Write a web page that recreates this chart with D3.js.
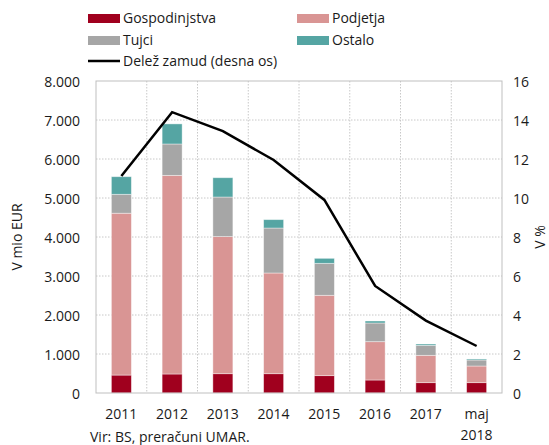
<!DOCTYPE html>
<html>
<head>
<meta charset="utf-8">
<script src="https://cdn.jsdelivr.net/npm/d3@7"></script>
<style>
    html, body { margin: 0; padding: 0; background: #ffffff; overflow: hidden; }
    svg { display: block; }
    svg text { font-family: "Open Sans", "Noto Sans", sans-serif; fill: #1a1a1a; }
</style>
</head>
<body>
<div id="chart"></div>
<script>
// Data (mio EUR, share in %)
const years = ["2011", "2012", "2013", "2014", "2015", "2016", "2017", "maj 2018"];
const gospodinjstva = [460, 487, 495, 495, 445, 333, 265, 265];
const podjetja = [4150, 5093, 3515, 2582, 2060, 983, 701, 427];
const tujci = [485, 805, 1015, 1153, 820, 479, 256, 154];
const ostalo = [451, 515, 495, 215, 128, 51, 34, 26];
const delez = [11.13, 14.4, 13.43, 11.95, 9.9, 5.49, 3.71, 2.41];

const seriesNames = ["Gospodinjstva", "Podjetja", "Tujci", "Ostalo"];
const seriesColors = ["#a0001e", "#d99594", "#a6a6a6", "#55a5a3"];

const leftTicks = [0, 1000, 2000, 3000, 4000, 5000, 6000, 7000, 8000];
const rightTicks = [0, 2, 4, 6, 8, 10, 12, 14, 16];

const width = 549;
const height = 445;
const margin = { top: 81, right: 47, bottom: 52, left: 96 };
const innerWidth = width - margin.left - margin.right;
const innerHeight = height - margin.top - margin.bottom;

const svg = d3.select("#chart")
    .append("svg")
    .attr("width", width)
    .attr("height", height);

const g = svg.append("g")
    .attr("transform", `translate(${margin.left}, ${margin.top})`);

// build rows for the stack
const rows = years.map((y, i) => ({
    year: y,
    Gospodinjstva: gospodinjstva[i],
    Podjetja: podjetja[i],
    Tujci: tujci[i],
    Ostalo: ostalo[i]
}));

const x = d3.scaleBand()
    .domain(years)
    .range([0, innerWidth]);

const y = d3.scaleLinear()
    .domain([0, 8000])
    .range([innerHeight, 0]);

const yRight = d3.scaleLinear()
    .domain([0, 16])
    .range([innerHeight, 0]);

const color = d3.scaleOrdinal()
    .domain(seriesNames)
    .range(seriesColors);

// dotted grid lines
g.append("g")
    .selectAll("line")
    .data(leftTicks.slice(1, -1))
    .join("line")
    .attr("x1", 0)
    .attr("x2", innerWidth)
    .attr("y1", d => y(d))
    .attr("y2", d => y(d))
    .attr("stroke", "#c8c8c8")
    .attr("stroke-dasharray", "1.5,1.5");

g.append("g")
    .selectAll("line")
    .data(years.slice(1))
    .join("line")
    .attr("x1", d => x(d))
    .attr("x2", d => x(d))
    .attr("y1", 0)
    .attr("y2", innerHeight)
    .attr("stroke", "#c8c8c8")
    .attr("stroke-dasharray", "1.5,1.5");

// stacked bars
const stack = d3.stack().keys(seriesNames);
const stacked = stack(rows);
const barWidth = 20;

g.append("g")
    .selectAll("g")
    .data(stacked)
    .join("g")
    .attr("fill", d => color(d.key))
    .selectAll("rect")
    .data(d => d)
    .join("rect")
    .attr("x", d => x(d.data.year) + x.bandwidth() / 2 - barWidth / 2)
    .attr("y", d => y(d[1]))
    .attr("width", barWidth)
    .attr("height", d => y(d[0]) - y(d[1]))
    .attr("stroke", "#ffffff")
    .attr("stroke-opacity", 0.5)
    .attr("stroke-width", 0.8);

// plot frame
g.append("rect")
    .attr("x", 0)
    .attr("y", 0)
    .attr("width", innerWidth)
    .attr("height", innerHeight)
    .attr("fill", "none")
    .attr("stroke", "#bfbfbf")
    .attr("stroke-width", 1);

// share line on right axis
const line = d3.line()
    .x((d, i) => x(years[i]) + x.bandwidth() / 2)
    .y(d => yRight(d));

g.append("path")
    .datum(delez)
    .attr("d", line)
    .attr("fill", "none")
    .attr("stroke", "#000000")
    .attr("stroke-width", 2.5);

// axes
const fmt = d3.formatLocale({ decimal: ",", thousands: ".", grouping: [3], currency: ["", ""] }).format(",");

const leftAxis = g.append("g")
    .call(d3.axisLeft(y).tickValues(leftTicks).tickFormat(fmt).tickSize(0).tickPadding(16));
leftAxis.select(".domain").remove();
leftAxis.selectAll("text").attr("dy", 5).style("font-size", "14px");

const rightAxis = g.append("g")
    .attr("transform", `translate(${innerWidth}, 0)`)
    .call(d3.axisRight(yRight).tickValues(rightTicks).tickSize(0).tickPadding(11));
rightAxis.select(".domain").remove();
rightAxis.selectAll("text").attr("dy", 5).style("font-size", "14px");

// category labels, "maj 2018" wraps onto two lines
const bottomAxis = g.append("g")
    .attr("transform", `translate(0, ${innerHeight})`)
    .call(d3.axisBottom(x).tickSize(0));
bottomAxis.select(".domain").remove();
bottomAxis.selectAll(".tick text").remove();
bottomAxis.selectAll(".tick").each(function (d) {
    const parts = d.split(" ");
    const t = d3.select(this).append("text")
        .attr("text-anchor", "middle")
        .attr("y", 26)
        .attr("fill", "#1a1a1a")
        .style("font-size", "14px");
    parts.forEach((p, i) => {
        t.append("tspan")
            .attr("x", 0)
            .attr("dy", i === 0 ? 0 : 21)
            .text(p);
    });
});

// axis titles
svg.append("text")
    .attr("transform", `translate(22, ${margin.top + innerHeight / 2}) rotate(-90)`)
    .attr("text-anchor", "middle")
    .style("font-size", "14px")
    .text("V mio EUR");

svg.append("text")
    .attr("transform", `translate(545, ${margin.top + innerHeight / 2}) rotate(-90)`)
    .attr("text-anchor", "middle")
    .style("font-size", "14px")
    .text("V %");

// source note
svg.append("text")
    .attr("x", 90)
    .attr("y", 442)
    .style("font-size", "14px")
    .text("Vir: BS, preračuni UMAR.");

// legend
const legendItems = [
    { name: "Gospodinjstva", x: 88, y: 18, type: "rect" },
    { name: "Podjetja", x: 297, y: 18, type: "rect" },
    { name: "Tujci", x: 88, y: 40, type: "rect" },
    { name: "Ostalo", x: 297, y: 40, type: "rect" },
    { name: "Delež zamud (desna os)", x: 88, y: 61, type: "line" }
];

const legend = svg.append("g");
legendItems.forEach(item => {
    if (item.type === "rect") {
        legend.append("rect")
            .attr("x", item.x)
            .attr("y", item.y - 4)
            .attr("width", 32)
            .attr("height", 9)
            .attr("fill", color(item.name));
    } else {
        legend.append("line")
            .attr("x1", item.x)
            .attr("x2", item.x + 32)
            .attr("y1", item.y)
            .attr("y2", item.y)
            .attr("stroke", "#000")
            .attr("stroke-width", 2.5);
    }
    legend.append("text")
        .attr("x", item.x + 35)
        .attr("y", item.y + 5)
        .style("font-size", "14px")
        .text(item.name);
});
</script>
</body>
</html>
